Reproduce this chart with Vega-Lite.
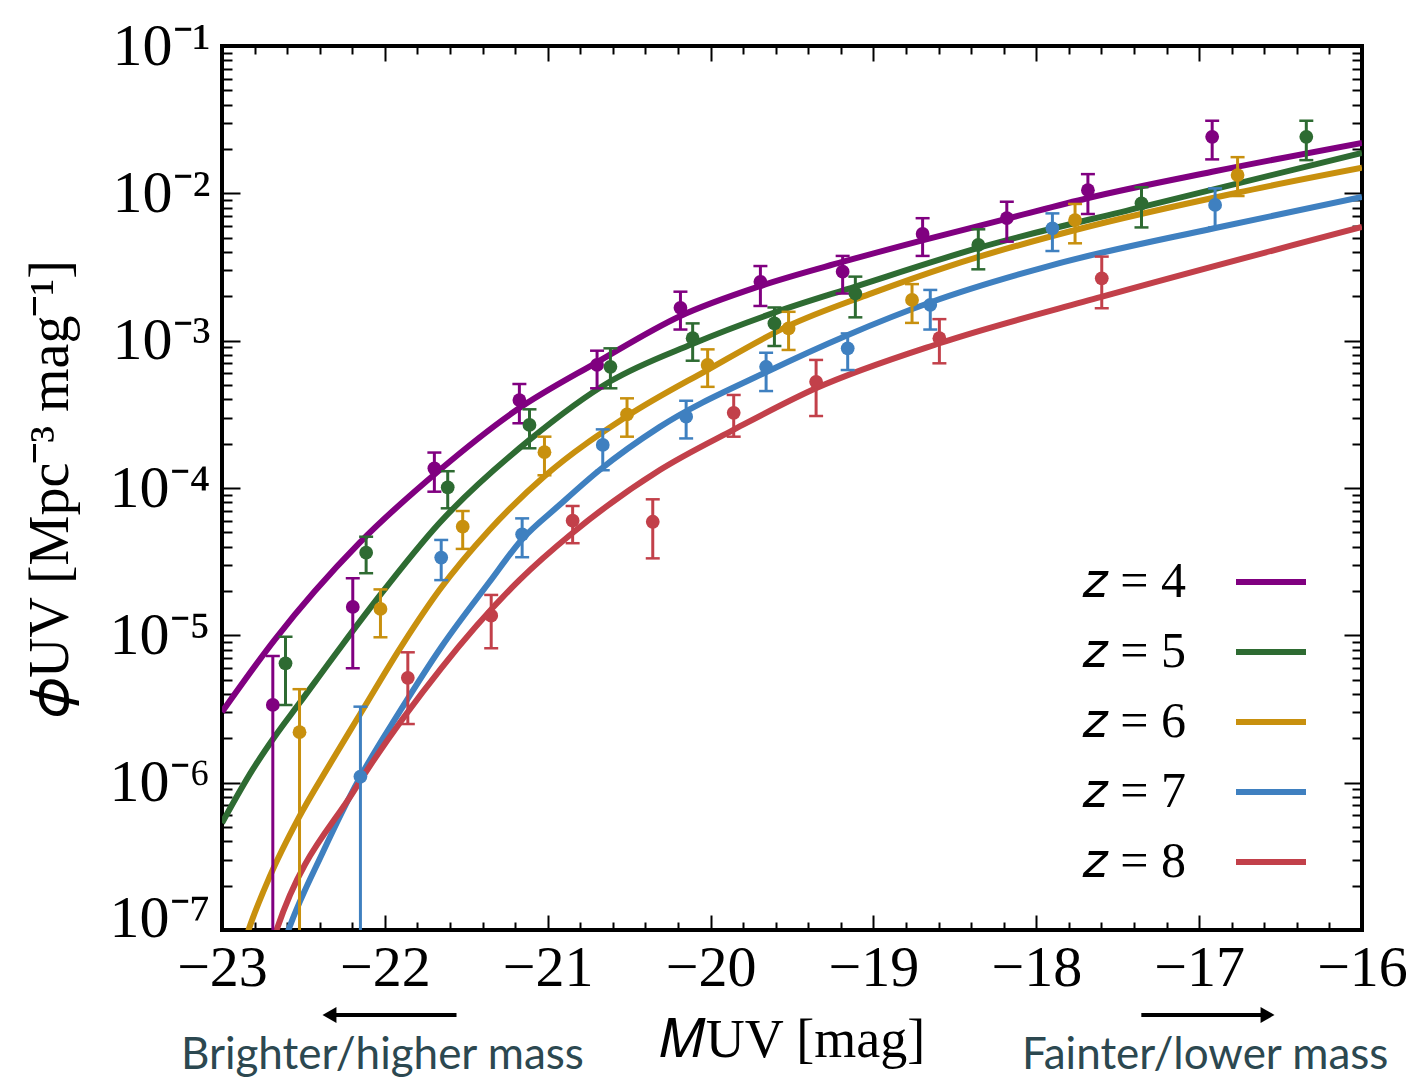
{
  "$schema": "https://vega.github.io/schema/vega-lite/v6.json",
  "width": 1140,
  "height": 884,
  "autosize": {"type": "none"},
  "padding": {"left": 222, "top": 46, "right": 50, "bottom": 151},
  "background": "white",
  "config": {
    "view": {"stroke": "black", "strokeWidth": 4},
    "axis": {"domain": false, "grid": false, "tickColor": "black", "tickWidth": 2, "labelColor": "black", "titleColor": "black", "labelFont": "Liberation Serif", "titleFont": "Liberation Serif", "titleFontWeight": "normal", "labelOverlap": false, "labelFlush": false}
  },
  "datasets": {
    "points": [
      {"z": "4", "M": -22.688, "phi": 3.37e-6, "lo": 1e-8, "hi": 7.24e-6},
      {"z": "4", "M": -22.197, "phi": 1.56e-5, "lo": 5.97e-6, "hi": 2.44e-5},
      {"z": "4", "M": -21.696, "phi": 1.36e-4, "lo": 9.44e-5, "hi": 1.74e-4},
      {"z": "4", "M": -21.174, "phi": 3.95e-4, "lo": 2.75e-4, "hi": 5.08e-4},
      {"z": "4", "M": -20.697, "phi": 6.84e-4, "lo": 4.75e-4, "hi": 8.55e-4},
      {"z": "4", "M": -20.185, "phi": 1.67e-3, "lo": 1.19e-3, "hi": 2.15e-3},
      {"z": "4", "M": -19.694, "phi": 2.51e-3, "lo": 1.72e-3, "hi": 3.21e-3},
      {"z": "4", "M": -19.189, "phi": 2.94e-3, "lo": 2.09e-3, "hi": 3.76e-3},
      {"z": "4", "M": -18.698, "phi": 5.30e-3, "lo": 3.76e-3, "hi": 6.78e-3},
      {"z": "4", "M": -18.181, "phi": 6.78e-3, "lo": 4.70e-3, "hi": 8.77e-3},
      {"z": "4", "M": -17.683, "phi": 1.05e-2, "lo": 7.24e-3, "hi": 1.35e-2},
      {"z": "4", "M": -16.920, "phi": 2.42e-2, "lo": 1.70e-2, "hi": 3.11e-2},
      {"z": "5", "M": -22.610, "phi": 6.46e-6, "lo": 3.37e-6, "hi": 9.79e-6},
      {"z": "5", "M": -22.115, "phi": 3.64e-5, "lo": 2.64e-5, "hi": 4.67e-5},
      {"z": "5", "M": -21.614, "phi": 1.01e-4, "lo": 7.28e-5, "hi": 1.30e-4},
      {"z": "5", "M": -21.112, "phi": 2.68e-4, "lo": 1.86e-4, "hi": 3.42e-4},
      {"z": "5", "M": -20.615, "phi": 6.65e-4, "lo": 4.75e-4, "hi": 8.87e-4},
      {"z": "5", "M": -20.110, "phi": 1.04e-3, "lo": 7.31e-4, "hi": 1.31e-3},
      {"z": "5", "M": -19.608, "phi": 1.31e-3, "lo": 9.20e-4, "hi": 1.68e-3},
      {"z": "5", "M": -19.111, "phi": 2.09e-3, "lo": 1.44e-3, "hi": 2.72e-3},
      {"z": "5", "M": -18.356, "phi": 4.46e-3, "lo": 3.05e-3, "hi": 5.70e-3},
      {"z": "5", "M": -17.354, "phi": 8.55e-3, "lo": 5.87e-3, "hi": 1.10e-2},
      {"z": "5", "M": -16.342, "phi": 2.42e-2, "lo": 1.68e-2, "hi": 3.11e-2},
      {"z": "6", "M": -22.524, "phi": 2.20e-6, "lo": 1e-8, "hi": 4.31e-6},
      {"z": "6", "M": -22.027, "phi": 1.51e-5, "lo": 9.70e-6, "hi": 2.05e-5},
      {"z": "6", "M": -21.522, "phi": 5.46e-5, "lo": 3.86e-5, "hi": 6.98e-5},
      {"z": "6", "M": -21.020, "phi": 1.75e-4, "lo": 1.22e-4, "hi": 2.23e-4},
      {"z": "6", "M": -20.513, "phi": 3.16e-4, "lo": 2.23e-4, "hi": 4.06e-4},
      {"z": "6", "M": -20.018, "phi": 6.84e-4, "lo": 4.86e-4, "hi": 8.73e-4},
      {"z": "6", "M": -19.521, "phi": 1.21e-3, "lo": 8.65e-4, "hi": 1.57e-3},
      {"z": "6", "M": -18.763, "phi": 1.89e-3, "lo": 1.32e-3, "hi": 2.42e-3},
      {"z": "6", "M": -17.762, "phi": 6.59e-3, "lo": 4.58e-3, "hi": 8.47e-3},
      {"z": "6", "M": -16.764, "phi": 1.33e-2, "lo": 9.59e-3, "hi": 1.76e-2},
      {"z": "7", "M": -22.150, "phi": 1.10e-6, "lo": 1e-8, "hi": 3.28e-6},
      {"z": "7", "M": -21.654, "phi": 3.37e-5, "lo": 2.37e-5, "hi": 4.44e-5},
      {"z": "7", "M": -21.157, "phi": 4.85e-5, "lo": 3.39e-5, "hi": 6.22e-5},
      {"z": "7", "M": -20.662, "phi": 1.96e-4, "lo": 1.32e-4, "hi": 2.50e-4},
      {"z": "7", "M": -20.150, "phi": 3.05e-4, "lo": 2.17e-4, "hi": 3.91e-4},
      {"z": "7", "M": -19.659, "phi": 6.65e-4, "lo": 4.55e-4, "hi": 8.28e-4},
      {"z": "7", "M": -19.158, "phi": 8.87e-4, "lo": 6.32e-4, "hi": 1.12e-3},
      {"z": "7", "M": -18.651, "phi": 1.75e-3, "lo": 1.19e-3, "hi": 2.21e-3},
      {"z": "7", "M": -17.901, "phi": 5.79e-3, "lo": 4.06e-3, "hi": 7.31e-3},
      {"z": "7", "M": -16.902, "phi": 8.34e-3, "lo": 5.87e-3, "hi": 1.08e-2},
      {"z": "8", "M": -21.859, "phi": 5.15e-6, "lo": 2.50e-6, "hi": 7.67e-6},
      {"z": "8", "M": -21.347, "phi": 1.36e-5, "lo": 8.17e-6, "hi": 1.88e-5},
      {"z": "8", "M": -20.847, "phi": 6.00e-5, "lo": 4.22e-5, "hi": 7.55e-5},
      {"z": "8", "M": -20.355, "phi": 5.90e-5, "lo": 3.33e-5, "hi": 8.38e-5},
      {"z": "8", "M": -19.858, "phi": 3.24e-4, "lo": 2.23e-4, "hi": 4.28e-4},
      {"z": "8", "M": -19.352, "phi": 5.26e-4, "lo": 3.08e-4, "hi": 7.40e-4},
      {"z": "8", "M": -18.595, "phi": 1.04e-3, "lo": 7.02e-4, "hi": 1.40e-3},
      {"z": "8", "M": -17.598, "phi": 2.65e-3, "lo": 1.66e-3, "hi": 3.72e-3}
    ],
    "curves": [
      {"z": "4", "M": -23.0, "phi": 3.02e-6},
      {"z": "4", "M": -22.678, "phi": 9.29e-6},
      {"z": "4", "M": -22.156, "phi": 4.24e-5},
      {"z": "4", "M": -21.665, "phi": 1.32e-4},
      {"z": "4", "M": -21.192, "phi": 3.38e-4},
      {"z": "4", "M": -20.695, "phi": 7.16e-4},
      {"z": "4", "M": -20.185, "phi": 1.47e-3},
      {"z": "4", "M": -19.694, "phi": 2.35e-3},
      {"z": "4", "M": -19.191, "phi": 3.42e-3},
      {"z": "4", "M": -18.694, "phi": 4.82e-3},
      {"z": "4", "M": -18.184, "phi": 6.70e-3},
      {"z": "4", "M": -17.681, "phi": 9.30e-3},
      {"z": "4", "M": -16.920, "phi": 1.40e-2},
      {"z": "4", "M": -16.0, "phi": 2.20e-2},
      {"z": "5", "M": -23.0, "phi": 5.32e-7},
      {"z": "5", "M": -22.813, "phi": 1.22e-6},
      {"z": "5", "M": -22.678, "phi": 2.04e-6},
      {"z": "5", "M": -22.524, "phi": 3.47e-6},
      {"z": "5", "M": -22.266, "phi": 8.47e-6},
      {"z": "5", "M": -22.033, "phi": 1.85e-5},
      {"z": "5", "M": -21.665, "phi": 5.78e-5},
      {"z": "5", "M": -21.112, "phi": 2.12e-4},
      {"z": "5", "M": -20.615, "phi": 5.30e-4},
      {"z": "5", "M": -20.112, "phi": 9.50e-4},
      {"z": "5", "M": -19.608, "phi": 1.55e-3},
      {"z": "5", "M": -19.111, "phi": 2.33e-3},
      {"z": "5", "M": -18.356, "phi": 4.26e-3},
      {"z": "5", "M": -17.355, "phi": 8.07e-3},
      {"z": "5", "M": -16.0, "phi": 1.88e-2},
      {"z": "6", "M": -22.90, "phi": 6.0e-8},
      {"z": "6", "M": -22.837, "phi": 1.0e-7},
      {"z": "6", "M": -22.708, "phi": 2.29e-7},
      {"z": "6", "M": -22.530, "phi": 5.75e-7},
      {"z": "6", "M": -22.340, "phi": 1.32e-6},
      {"z": "6", "M": -22.174, "phi": 2.66e-6},
      {"z": "6", "M": -21.886, "phi": 8.87e-6},
      {"z": "6", "M": -21.665, "phi": 2.03e-5},
      {"z": "6", "M": -21.358, "phi": 5.19e-5},
      {"z": "6", "M": -21.020, "phi": 1.20e-4},
      {"z": "6", "M": -20.511, "phi": 3.08e-4},
      {"z": "6", "M": -20.020, "phi": 6.32e-4},
      {"z": "6", "M": -19.522, "phi": 1.26e-3},
      {"z": "6", "M": -19.025, "phi": 2.07e-3},
      {"z": "6", "M": -18.534, "phi": 3.21e-3},
      {"z": "6", "M": -17.761, "phi": 5.64e-3},
      {"z": "6", "M": -16.766, "phi": 1.01e-2},
      {"z": "6", "M": -16.0, "phi": 1.49e-2},
      {"z": "7", "M": -22.65, "phi": 6.5e-8},
      {"z": "7", "M": -22.592, "phi": 1.0e-7},
      {"z": "7", "M": -22.383, "phi": 3.33e-7},
      {"z": "7", "M": -22.162, "phi": 1.04e-6},
      {"z": "7", "M": -21.910, "phi": 3.02e-6},
      {"z": "7", "M": -21.653, "phi": 8.33e-6},
      {"z": "7", "M": -21.358, "phi": 2.30e-5},
      {"z": "7", "M": -21.161, "phi": 4.44e-5},
      {"z": "7", "M": -20.928, "phi": 7.66e-5},
      {"z": "7", "M": -20.683, "phi": 1.32e-4},
      {"z": "7", "M": -20.314, "phi": 2.59e-4},
      {"z": "7", "M": -19.657, "phi": 6.13e-4},
      {"z": "7", "M": -19.160, "phi": 1.09e-3},
      {"z": "7", "M": -18.644, "phi": 1.83e-3},
      {"z": "7", "M": -17.902, "phi": 3.26e-3},
      {"z": "7", "M": -16.901, "phi": 5.82e-3},
      {"z": "7", "M": -16.0, "phi": 9.44e-3},
      {"z": "8", "M": -22.72, "phi": 6.5e-8},
      {"z": "8", "M": -22.665, "phi": 1.0e-7},
      {"z": "8", "M": -22.187, "phi": 8.91e-7},
      {"z": "8", "M": -21.653, "phi": 6.00e-6},
      {"z": "8", "M": -21.174, "phi": 2.37e-5},
      {"z": "8", "M": -20.848, "phi": 4.95e-5},
      {"z": "8", "M": -20.314, "phi": 1.32e-4},
      {"z": "8", "M": -19.860, "phi": 2.48e-4},
      {"z": "8", "M": -19.350, "phi": 4.77e-4},
      {"z": "8", "M": -18.589, "phi": 9.64e-4},
      {"z": "8", "M": -17.601, "phi": 1.98e-3},
      {"z": "8", "M": -16.0, "phi": 5.91e-3}
    ],
    "notes": [
      {"M": -22.015, "phi": 1.4e-8, "label": "Brighter/higher mass"},
      {"M": -16.963, "phi": 1.4e-8, "label": "Fainter/lower mass"}
    ],
    "arrows": [
      {"M": -22.30, "M2": -21.56, "tip": -22.34, "phi": 2.65e-8, "dir": "left"},
      {"M": -17.355, "M2": -16.62, "tip": -16.58, "phi": 2.65e-8, "dir": "right"}
    ]
  },
  "resolve": {"axis": {"x": "independent", "y": "independent"}},
  "layer": [
    {
      "data": {"name": "curves"},
      "mark": {"type": "line", "strokeWidth": 6, "clip": true, "interpolate": "monotone"},
      "encoding": {
        "x": {
          "field": "M", "type": "quantitative",
          "scale": {"domain": [-23, -16], "nice": false, "zero": false},
          "axis": {
            "orient": "bottom",
            "values": [-23, -22, -21, -20, -19, -18, -17, -16],
            "format": "d",
            "tickSize": -15,
            "labelFontSize": 58,
            "labelPadding": 24,
            "title": "𝑀UV [mag]",
            "titleFontSize": 54,
            "titlePadding": 16
          }
        },
        "y": {
          "field": "phi", "type": "quantitative",
          "scale": {"type": "log", "domain": [1e-7, 0.1], "nice": false},
          "axis": {
            "orient": "left",
            "values": [1e-7, 1e-6, 1e-5, 1e-4, 1e-3, 1e-2, 0.1],
            "labelExpr": "'10⁻' + ['⁰','¹','²','³','⁴','⁵','⁶','⁷','⁸','⁹'][-round(log(datum.value)/LN10)]",
            "tickSize": -18,
            "labelFontSize": 60,
            "labelPadding": 30,
            "labelBaseline": "middle",
            "labelOffset": {"condition": {"test": "datum.value < 2e-7", "value": -12}, "value": 0},
            "title": "𝜙UV [Mpc⁻³ mag⁻¹]",
            "titleFontSize": 56,
            "titlePadding": 30
          }
        },
        "color": {
          "field": "z", "type": "nominal",
          "scale": {"domain": ["4", "5", "6", "7", "8"], "range": ["#800080", "#2e6b32", "#c8900e", "#3f80c0", "#c2404a"]},
          "legend": {
            "orient": "none", "legendX": 1011, "legendY": 498, "title": null,
            "symbolType": "stroke", "symbolSize": 4900, "symbolStrokeWidth": 6,
            "labelFont": "Liberation Serif", "labelFontSize": 50, "labelColor": "black",
            "labelExpr": "'𝑧 = ' + datum.label", "labelAlign": "right", "labelOffset": -123,
            "rowPadding": 7, "padding": 0, "labelLimit": 0
          }
        }
      }
    },
    {
      "data": {"name": "points"},
      "mark": {"type": "rule", "strokeWidth": 3, "clip": true},
      "encoding": {
        "x": {
          "field": "M", "type": "quantitative",
          "scale": {"domain": [-23, -16], "nice": false, "zero": false},
          "axis": {"orient": "top", "values": [-23, -22, -21, -20, -19, -18, -17, -16], "labels": false, "tickSize": -15, "title": null}
        },
        "y": {
          "field": "lo", "type": "quantitative",
          "scale": {"type": "log", "domain": [1e-7, 0.1], "nice": false},
          "axis": {"orient": "right", "values": [1e-7, 1e-6, 1e-5, 1e-4, 1e-3, 1e-2, 0.1], "labels": false, "tickSize": -18, "title": null}
        },
        "y2": {"field": "hi"},
        "color": {"field": "z", "type": "nominal", "legend": null}
      }
    },
    {
      "data": {"name": "points"},
      "mark": {"type": "tick", "orient": "horizontal", "size": 14, "thickness": 2.5, "opacity": 1, "clip": true},
      "encoding": {
        "x": {
          "field": "M", "type": "quantitative",
          "scale": {"domain": [-23, -16], "nice": false, "zero": false},
          "axis": {"orient": "bottom", "values": [-22.8,-22.6,-22.4,-22.2,-21.8,-21.6,-21.4,-21.2,-20.8,-20.6,-20.4,-20.2,-19.8,-19.6,-19.4,-19.2,-18.8,-18.6,-18.4,-18.2,-17.8,-17.6,-17.4,-17.2,-16.8,-16.6,-16.4,-16.2], "labels": false, "tickSize": -8, "title": null}
        },
        "y": {
          "field": "lo", "type": "quantitative",
          "scale": {"type": "log", "domain": [1e-7, 0.1], "nice": false},
          "axis": {"orient": "left", "values": [2e-7,3e-7,4e-7,5e-7,6e-7,7e-7,8e-7,9e-7,2e-6,3e-6,4e-6,5e-6,6e-6,7e-6,8e-6,9e-6,2e-5,3e-5,4e-5,5e-5,6e-5,7e-5,8e-5,9e-5,2e-4,3e-4,4e-4,5e-4,6e-4,7e-4,8e-4,9e-4,2e-3,3e-3,4e-3,5e-3,6e-3,7e-3,8e-3,9e-3,2e-2,3e-2,4e-2,5e-2,6e-2,7e-2,8e-2,9e-2], "labels": false, "tickSize": -10, "title": null}
        },
        "color": {"field": "z", "type": "nominal", "legend": null}
      }
    },
    {
      "data": {"name": "points"},
      "mark": {"type": "tick", "orient": "horizontal", "size": 14, "thickness": 2.5, "opacity": 1, "clip": true},
      "encoding": {
        "x": {
          "field": "M", "type": "quantitative",
          "scale": {"domain": [-23, -16], "nice": false, "zero": false},
          "axis": {"orient": "top", "values": [-22.8,-22.6,-22.4,-22.2,-21.8,-21.6,-21.4,-21.2,-20.8,-20.6,-20.4,-20.2,-19.8,-19.6,-19.4,-19.2,-18.8,-18.6,-18.4,-18.2,-17.8,-17.6,-17.4,-17.2,-16.8,-16.6,-16.4,-16.2], "labels": false, "tickSize": -8, "title": null}
        },
        "y": {
          "field": "hi", "type": "quantitative",
          "scale": {"type": "log", "domain": [1e-7, 0.1], "nice": false},
          "axis": {"orient": "right", "values": [2e-7,3e-7,4e-7,5e-7,6e-7,7e-7,8e-7,9e-7,2e-6,3e-6,4e-6,5e-6,6e-6,7e-6,8e-6,9e-6,2e-5,3e-5,4e-5,5e-5,6e-5,7e-5,8e-5,9e-5,2e-4,3e-4,4e-4,5e-4,6e-4,7e-4,8e-4,9e-4,2e-3,3e-3,4e-3,5e-3,6e-3,7e-3,8e-3,9e-3,2e-2,3e-2,4e-2,5e-2,6e-2,7e-2,8e-2,9e-2], "labels": false, "tickSize": -10, "title": null}
        },
        "color": {"field": "z", "type": "nominal", "legend": null}
      }
    },
    {
      "data": {"name": "points"},
      "mark": {"type": "circle", "size": 190, "opacity": 1, "clip": true},
      "encoding": {
        "x": {"field": "M", "type": "quantitative", "axis": null},
        "y": {"field": "phi", "type": "quantitative", "scale": {"type": "log"}, "axis": null},
        "color": {"field": "z", "type": "nominal", "legend": null}
      }
    },
    {
      "data": {"name": "notes"},
      "mark": {"type": "text", "font": "Lato", "fontSize": 44, "color": "#2c4850", "align": "center", "baseline": "middle"},
      "encoding": {
        "x": {"field": "M", "type": "quantitative", "axis": null},
        "y": {"field": "phi", "type": "quantitative", "scale": {"type": "log"}, "axis": null},
        "text": {"field": "label"}
      }
    },
    {
      "data": {"name": "arrows"},
      "mark": {"type": "rule", "strokeWidth": 4, "color": "black"},
      "encoding": {
        "x": {"field": "M", "type": "quantitative", "axis": null},
        "x2": {"field": "M2"},
        "y": {"field": "phi", "type": "quantitative", "scale": {"type": "log"}, "axis": null}
      }
    },
    {
      "data": {"name": "arrows"},
      "mark": {"type": "point", "filled": true, "size": 260, "opacity": 1, "color": "black"},
      "encoding": {
        "x": {"field": "tip", "type": "quantitative", "axis": null},
        "y": {"field": "phi", "type": "quantitative", "scale": {"type": "log"}, "axis": null},
        "shape": {"field": "dir", "type": "nominal", "scale": {"domain": ["left", "right"], "range": ["triangle-left", "triangle-right"]}, "legend": null}
      }
    }
  ]
}
